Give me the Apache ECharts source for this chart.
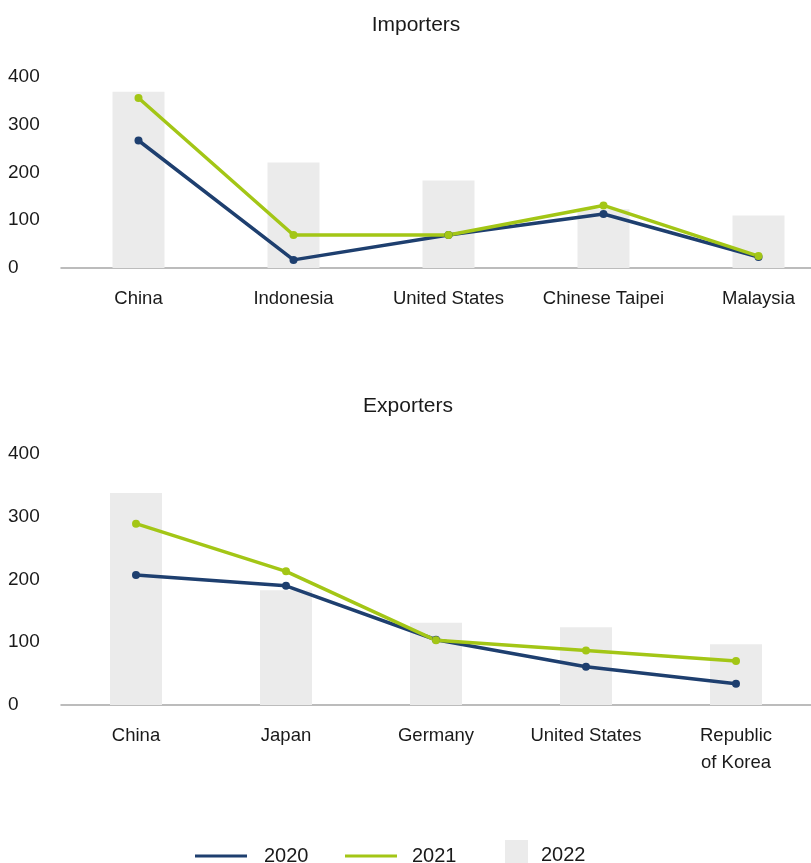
<!DOCTYPE html>
<html><head><meta charset="utf-8">
<script src="https://cdn.jsdelivr.net/npm/echarts@6/dist/echarts.min.js"></script>
<style>html,body{margin:0;padding:0;background:#fff}#c{width:811px;height:863px}</style>
</head><body><div id="c"></div>
<script>
const importerCats = ['China','Indonesia','United States','Chinese Taipei','Malaysia'];
const imp2020 = [267, 17, 69, 113, 23];
const imp2021 = [356, 69, 69, 131, 25];
const imp2022 = [369, 221, 183, 123, 110];

const exporterCats = ['China','Japan','Germany','United States','Republic\nof Korea'];
const exp2020 = [207, 190, 104, 61, 34];
const exp2021 = [289, 213, 103, 87, 70];
const exp2022 = [338, 183, 131, 124, 97];

const yTicks = [0, 100, 200, 300, 400];

const C20 = '#1e3f6f', C21 = '#a3c616', C22 = '#ebebeb';
const FONT = 'Liberation Sans';
const chart = echarts.init(document.getElementById('c'));

function xAxis(idx, cats) {
  return {type:'category', gridIndex: idx, data: cats,
    axisLine:{lineStyle:{color:'#a6a6a6', width:1.5}}, axisTick:{show:false},
    axisLabel:{color:'#1a1a1a', fontFamily:FONT, fontSize:18.5, margin:17, lineHeight:27, interval:0}};
}
function yAxis(idx) {
  return {type:'value', gridIndex: idx, min: yTicks[0], max: yTicks[yTicks.length-1], interval: 100,
    splitLine:{show:false}, axisLine:{show:false}, axisTick:{show:false},
    axisLabel:{align:'left', margin:53, color:'#1a1a1a', fontFamily:FONT, fontSize:19}};
}
function lineS(name, data, color, idx) {
  return {name, type:'line', xAxisIndex: idx, yAxisIndex: idx, data,
    lineStyle:{color, width:3.5}, itemStyle:{color}, symbol:'circle', symbolSize:8, z:3};
}
function barS(data, idx) {
  return {name:'2022', type:'bar', xAxisIndex: idx, yAxisIndex: idx, data, barWidth:52,
    itemStyle:{color:C22}, z:1};
}
const legendText = {fontFamily:FONT, fontSize:20, color:'#1a1a1a'};

chart.setOption({
  animation:false,
  textStyle:{fontFamily:FONT},
  title:[
    {text:'Importers', left:416, textAlign:'center', top:15, padding:0, textStyle:{fontFamily:FONT, fontSize:21, fontWeight:'normal', color:'#1a1a1a'}},
    {text:'Exporters', left:408, textAlign:'center', top:396, padding:0, textStyle:{fontFamily:FONT, fontSize:21, fontWeight:'normal', color:'#1a1a1a'}}
  ],
  grid:[
    {left:61, top:77, width:775, height:191, outerBoundsMode:'none', containLabel:false},
    {left:61, top:454, right:0, height:251, outerBoundsMode:'none', containLabel:false}
  ],
  xAxis:[xAxis(0, importerCats), xAxis(1, exporterCats)],
  yAxis:[yAxis(0), yAxis(1)],
  legend:[
    {data:[{name:'2020', icon:'rect'}], left:195, top:846, padding:0, itemWidth:52, itemHeight:3,
     textStyle:Object.assign({padding:[0,0,0,12]}, legendText)},
    {data:[{name:'2021', icon:'rect'}], left:345, top:846, padding:0, itemWidth:52, itemHeight:3,
     textStyle:Object.assign({padding:[0,0,0,10]}, legendText)},
    {data:[{name:'2022', icon:'rect'}], left:505, top:840, padding:0, itemWidth:23, itemHeight:30,
     textStyle:Object.assign({padding:[0,0,0,8]}, legendText)}
  ],
  series:[
    barS(imp2022, 0), lineS('2020', imp2020, C20, 0), lineS('2021', imp2021, C21, 0),
    barS(exp2022, 1), lineS('2020', exp2020, C20, 1), lineS('2021', exp2021, C21, 1)
  ]
});
</script></body></html>
